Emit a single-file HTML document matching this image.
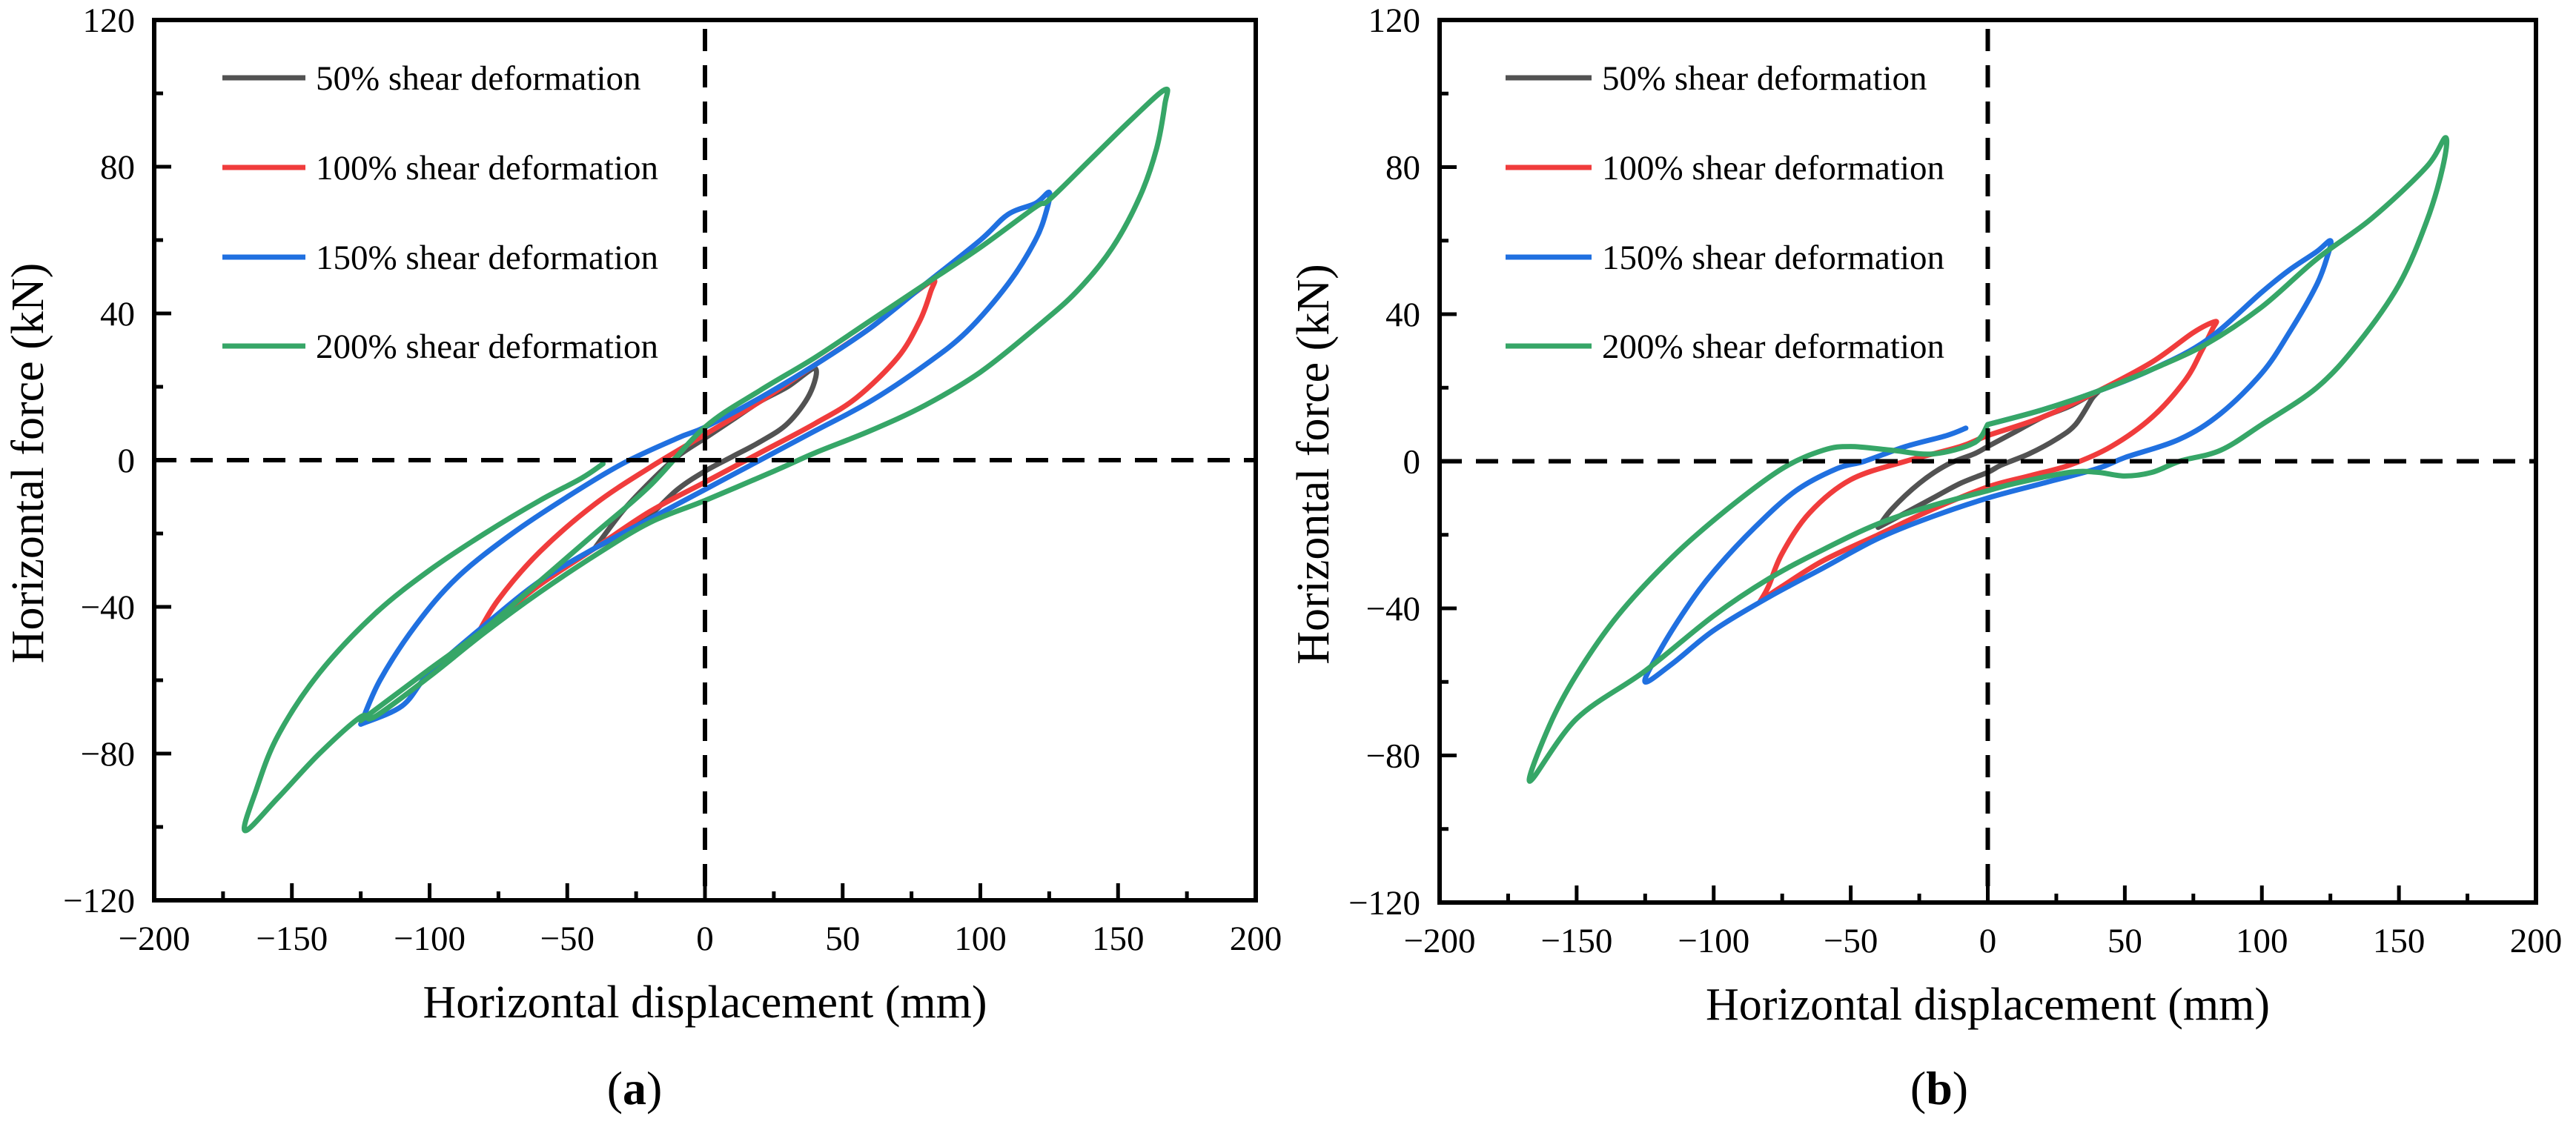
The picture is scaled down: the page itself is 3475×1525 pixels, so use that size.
<!DOCTYPE html>
<html><head><meta charset="utf-8"><style>
html,body{margin:0;padding:0;background:#fff;}
svg{display:block;}
text{font-family:"Liberation Serif",serif;fill:#000;}
</style></head><body>
<svg id="fig" xmlns="http://www.w3.org/2000/svg" width="3475" height="1525" viewBox="0 0 3475 1525"></svg>
<script>
// ---- data (x: mm, y: kN) ----
const xTicks=[-200,-150,-100,-50,0,50,100,150,200];
const yTicks=[-120,-80,-40,0,40,80,120];
const seriesNames=["50% shear deformation","100% shear deformation","150% shear deformation","200% shear deformation"];
const seriesColors=["#525252","#f03c3c","#2070e0","#36a667"];
// panel a
const a50X=[-40,-30,-20,-10,0,10,20,30,40,38,30,20,10,0,-10,-20,-30,-40];
const a50Y=[-24,-14,-6,1,6,11,16,20,25,18,10,5,1,-3,-8,-15,-20,-24];
const a100X=[-83,-75,-60,-40,-20,0,20,40,60,75,83,82,78,70,55,40,20,0,-20,-40,-60,-75,-83];
const a100Y=[-48,-38,-25,-12,-2,7,16,26,36,45,49,46,38,28,17,10,2,-6,-14,-24,-34,-43,-48];
const a150X=[-125,-118,-105,-90,-70,-50,-30,-10,0,20,40,60,80,100,110,120,125,124,120,110,95,80,60,40,20,0,-20,-40,-60,-80,-100,-110,-125];
const a150Y=[-72,-60,-45,-32,-20,-10,-1,6,9,17,26,36,48,60,67,70,73,68,60,48,35,26,16,8,0,-8,-16,-24,-33,-45,-58,-67,-72];
const a200X=[-125,-100,-80,-60,-40,-20,0,20,40,60,80,100,120,125,140,155,167,167,164,158,148,135,120,100,80,60,40,25,0,-20,-40,-60,-80,-100,-120,-125,-140,-155,-167,-163,-155,-140,-120,-100,-80,-60,-45,-37];
const a200Y=[-71,-57,-46,-33,-20,-7,9,19,28,38,48,58,69,71,82,93,101,97,85,72,58,46,36,24,15,8,2,-3,-11,-17,-26,-36,-47,-59,-70,-70,-80,-92,-101,-90,-75,-58,-42,-30,-20,-11,-5,-1];
// panel b
const b50X=[-40,-35,-25,-15,-5,0,10,20,30,40,38,32,25,15,5,0,-10,-20,-30,-40];
const b50Y=[-18,-13,-6,-1,2,4,8,12,15,19,17,10,6,2,-1,-3,-6,-10,-14,-18];
const b100X=[-83,-80,-75,-65,-50,-30,-10,0,20,40,60,75,83,82,78,72,60,45,30,15,0,-20,-40,-60,-75,-83];
const b100Y=[-38,-34,-25,-14,-5,0,4,7,12,19,27,35,38,36,30,22,12,4,-1,-4,-7,-13,-20,-27,-34,-38];
const b150X=[0,20,40,60,80,100,110,120,125,124,120,110,100,85,70,50,40,20,0,-20,-40,-60,-80,-100,-115,-125,-120,-110,-100,-85,-70,-55,-45,-30,-15,-8];
const b150Y=[10,14,19,25,33,46,52,57,60,56,48,35,24,13,6,1,-2,-6,-10,-15,-21,-29,-37,-46,-55,-60,-52,-40,-30,-18,-8,-2,0,4,7,9];
const b200X=[0,20,40,60,80,100,120,140,160,167,166,160,150,135,120,100,85,70,60,50,40,30,10,0,-20,-40,-60,-80,-100,-125,-150,-167,-160,-150,-135,-115,-95,-75,-60,-50,-35,-20,-5,0];
const b200Y=[10,14,19,25,32,42,55,66,80,88,80,65,48,32,20,10,3,0,-3,-4,-3,-3,-6,-8,-12,-17,-24,-32,-42,-57,-70,-87,-72,-58,-42,-26,-13,-2,3,4,3,2,5,10];

const panels=[
 {id:"a",x0:208,x1:1694,y0:27,y1:1215,label:"a",labelX:856,legLine:[300,412],legText:426,
  series:[[a50X,a50Y],[a100X,a100Y],[a150X,a150Y],[a200X,a200Y]]},
 {id:"b",x0:1942,x1:3421,y0:27,y1:1218,label:"b",labelX:2616,legLine:[2031,2147],legText:2161,
  series:[[b50X,b50Y],[b100X,b100Y],[b150X,b150Y],[b200X,b200Y]]}
];
const NS="http://www.w3.org/2000/svg";
const svg=document.getElementById("fig");
function mk(tag,attrs,parent){const e=document.createElementNS(NS,tag);for(const k in attrs)e.setAttribute(k,attrs[k]);(parent||svg).appendChild(e);return e;}
function spline(pts){
  let d="M"+pts[0][0].toFixed(1)+","+pts[0][1].toFixed(1);
  for(let i=0;i<pts.length-1;i++){
    const p0=pts[Math.max(i-1,0)],p1=pts[i],p2=pts[i+1],p3=pts[Math.min(i+2,pts.length-1)];
    const c1x=p1[0]+(p2[0]-p0[0])/6,c1y=p1[1]+(p2[1]-p0[1])/6;
    const c2x=p2[0]-(p3[0]-p1[0])/6,c2y=p2[1]-(p3[1]-p1[1])/6;
    d+=" C"+c1x.toFixed(1)+","+c1y.toFixed(1)+" "+c2x.toFixed(1)+","+c2y.toFixed(1)+" "+p2[0].toFixed(1)+","+p2[1].toFixed(1);
  }
  return d;
}
const fmt=v=>v<0?"\u2212"+Math.abs(v):String(v);
panels.forEach(p=>{
  const sx=v=>p.x0+(v+200)/400*(p.x1-p.x0);
  const sy=v=>p.y1-(v+120)/240*(p.y1-p.y0);
  const g=mk("g",{});
  
  
  p.series.forEach((s,i)=>{
    const pts=s[0].map((x,j)=>[sx(x),sy(s[1][j])]);
    const path=mk("path",{d:spline(pts),fill:"none",stroke:seriesColors[i],"stroke-width":7,"stroke-linejoin":"round","stroke-linecap":"round"},g);
    
    
  });
  const hz=mk("line",{x1:p.x0,x2:p.x1,y1:sy(0),y2:sy(0),stroke:"#000","stroke-width":6,"stroke-dasharray":"30,19"},g);
  
  
  const vz=mk("line",{x1:sx(0),x2:sx(0),y1:p.y0+12,y2:p.y1,stroke:"#000","stroke-width":6,"stroke-dasharray":"30,19"},g);
  
  
  const fr=mk("rect",{x:p.x0,y:p.y0,width:p.x1-p.x0,height:p.y1-p.y0,fill:"none",stroke:"#000","stroke-width":6},g);
  
  
  for(let v=-200;v<=200;v+=25){
    const major=v%50===0;
    const t=mk("line",{x1:sx(v),x2:sx(v),y1:p.y1,y2:p.y1-(major?23:12),stroke:"#000","stroke-width":5},g);
    
    
  }
  xTicks.forEach(v=>{
    const t=mk("text",{x:sx(v),y:p.y1+67,"font-size":47,"text-anchor":"middle"},g);
    t.textContent=fmt(v);
    
    
  });
  for(let v=-120;v<=120;v+=20){
    const major=v%40===0;
    const t=mk("line",{x1:p.x0,x2:p.x0+(major?23:12),y1:sy(v),y2:sy(v),stroke:"#000","stroke-width":5},g);
    
    
  }
  yTicks.forEach(v=>{
    const t=mk("text",{x:p.x0-26,y:sy(v)+16,"font-size":47,"text-anchor":"end"},g);
    t.textContent=fmt(v);
    
    
  });
  const xt=mk("text",{x:(p.x0+p.x1)/2,y:p.y1+158,"font-size":62,"text-anchor":"middle"},g);
  xt.textContent="Horizontal displacement (mm)";
  
  
  const yc=(p.y0+p.y1)/2+4, ybx=p.x0-150;
  const yt=mk("text",{x:ybx,y:yc,"font-size":62,"text-anchor":"middle",transform:"rotate(-90 "+ybx+" "+yc+")"},g);
  yt.textContent="Horizontal force (kN)";
  
  
  const rows=[105,226,347,467];
  seriesNames.forEach((n,i)=>{
    const lg=mk("g",{},g);
    
    
    mk("line",{x1:p.legLine[0],x2:p.legLine[1],y1:rows[i],y2:rows[i],stroke:seriesColors[i],"stroke-width":7},lg);
    const t=mk("text",{x:p.legText,y:rows[i]+16,"font-size":47},lg);
    t.textContent=n;
  });
  const pl=mk("text",{x:p.labelX,y:1490,"font-size":64,"text-anchor":"middle"},g);
  
  
  pl.innerHTML='(<tspan font-weight="bold">'+p.label+'</tspan>)';
});
</script>
</body></html>
